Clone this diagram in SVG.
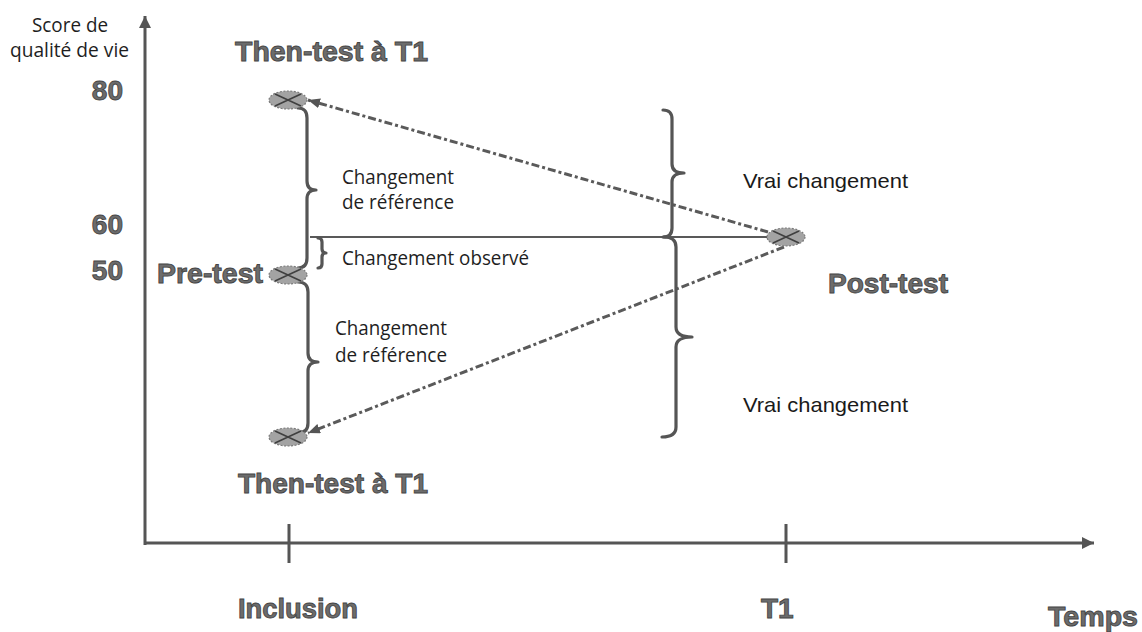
<svg xmlns="http://www.w3.org/2000/svg" xmlns:xlink="http://www.w3.org/1999/xlink" width="1142" height="632" viewBox="0 0 1142 632">
<style>
.big{font-family:"Liberation Sans",Arial,sans-serif;font-weight:bold;font-size:28px;fill:#6c6c6c;stroke:#454545;stroke-width:0.9px;}
.cal{font-family:"Open Sans","Noto Sans",sans-serif;font-size:19.5px;fill:#1e1e1e;}
.ari{font-family:"Liberation Sans",Arial,sans-serif;font-size:21px;fill:#1a1a1a;}
.axis{stroke:#555;stroke-width:3;fill:none;}
.brace{stroke:#555;stroke-width:3.2;fill:none;stroke-linecap:round;stroke-linejoin:round;}
.dd{stroke:#5a5a5a;stroke-width:3;fill:none;stroke-dasharray:8 3 3 3;}
.hl{stroke:#595959;stroke-width:2;fill:none;}
</style>
<defs>
<marker id="ah" markerUnits="userSpaceOnUse" markerWidth="14" markerHeight="12" refX="12" refY="5" orient="auto">
<path d="M0,0 L12,5 L0,10 Z" fill="#555"/>
</marker>
<marker id="axh" markerUnits="userSpaceOnUse" markerWidth="14" markerHeight="12" refX="12" refY="6" orient="auto">
<path d="M0,0 L12,6 L0,12 Z" fill="#555"/>
</marker>
<g id="mk">
<ellipse cx="0" cy="0" rx="19" ry="9" fill="#a3a3a3" stroke="#7a7a7a" stroke-width="1.2" stroke-dasharray="2 1.5"/>
<path d="M-13,-6 L13,6 M-13,6 L13,-6" stroke="#3f3f3f" stroke-width="1.6" fill="none"/>
</g>
</defs>

<g id="axes">
<path class="axis" d="M145,545 L145,16" marker-end="url(#axh)"/>
<path class="axis" d="M144,543 L1094,543" marker-end="url(#axh)"/>
<path class="axis" d="M289,524 L289,563 M786,524 L786,563"/>
</g>

<g id="axis-labels">
<text class="cal" x="70" y="32" text-anchor="middle" textLength="76" lengthAdjust="spacingAndGlyphs">Score de</text>
<text class="cal" x="69.5" y="57" text-anchor="middle" textLength="119" lengthAdjust="spacingAndGlyphs">qualité de vie</text>
<text class="big" x="123" y="100" text-anchor="end">80</text>
<text class="big" x="123" y="234" text-anchor="end">60</text>
<text class="big" x="123" y="280" text-anchor="end">50</text>
<text class="big" x="238" y="618" textLength="120" lengthAdjust="spacingAndGlyphs">Inclusion</text>
<text class="big" x="761" y="618">T1</text>
<text class="big" x="1048" y="626" textLength="90" lengthAdjust="spacingAndGlyphs">Temps</text>
</g>

<g id="connectors">
<path class="hl" d="M310,237 L770,237"/>
<path class="dd" d="M768,232 L308,100" marker-end="url(#ah)"/>
<path class="dd" d="M784,247 L308,433" marker-end="url(#ah)"/>
</g>

<g id="braces">
<path class="brace" d="M298,108 Q307,108 307,118 L307,181 Q307,190 316,190 Q307,190 307,199 L307,258 Q307,268 298,268"/>
<path class="brace" d="M298,282 Q308,282 308,292 L308,353 Q308,362 318,362 Q308,362 308,371 L308,423 Q308,433 298,433"/>
<path class="brace" d="M318,238 Q322,238 322,242 L322,249 Q322,253 326,253 Q322,253 322,257 L322,264 Q322,268 318,268"/>
<path class="brace" d="M663,110 Q672,110 672,119 L672,164 Q672,173 684,173 Q672,173 672,182 L672,228 Q672,237 663,237"/>
<path class="brace" d="M664,237 Q676,237 676,247 L676,327 Q676,337 692,337 Q676,337 676,347 L676,427 Q676,437 662,437"/>
</g>

<g id="then-test-top">
<use xlink:href="#mk" href="#mk" x="288" y="100"/>
<text class="big" x="235" y="61" textLength="193" lengthAdjust="spacingAndGlyphs">Then-test à T1</text>
</g>

<g id="pre-test">
<use xlink:href="#mk" href="#mk" x="288" y="275"/>
<text class="big" x="157" y="283" textLength="106" lengthAdjust="spacingAndGlyphs">Pre-test</text>
</g>

<g id="then-test-bottom">
<use xlink:href="#mk" href="#mk" x="288" y="437"/>
<text class="big" x="238" y="493" textLength="190" lengthAdjust="spacingAndGlyphs">Then-test à T1</text>
</g>

<g id="post-test">
<use xlink:href="#mk" href="#mk" x="786" y="237"/>
<text class="big" x="828" y="293" textLength="120" lengthAdjust="spacingAndGlyphs">Post-test</text>
</g>

<g id="labels">
<text class="cal" x="342" y="184" textLength="112" lengthAdjust="spacingAndGlyphs">Changement</text>
<text class="cal" x="342" y="209" textLength="112" lengthAdjust="spacingAndGlyphs">de référence</text>
<text class="cal" x="342" y="265" textLength="187" lengthAdjust="spacingAndGlyphs">Changement observé</text>
<text class="cal" x="335" y="335" textLength="112" lengthAdjust="spacingAndGlyphs">Changement</text>
<text class="cal" x="335" y="362" textLength="112" lengthAdjust="spacingAndGlyphs">de référence</text>
<text class="ari" x="743" y="188" textLength="165" lengthAdjust="spacingAndGlyphs">Vrai changement</text>
<text class="ari" x="743" y="412" textLength="165" lengthAdjust="spacingAndGlyphs">Vrai changement</text>
</g>
</svg>
